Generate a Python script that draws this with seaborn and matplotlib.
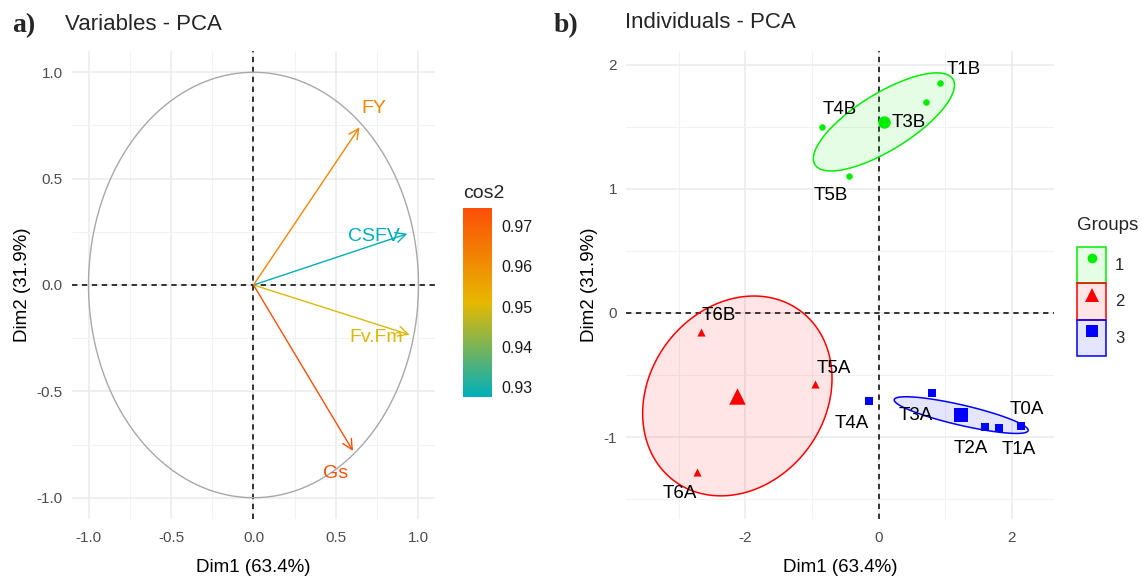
import numpy as np
import pandas as pd
import seaborn as sns
import matplotlib as mpl
from matplotlib import pyplot as plt
from matplotlib.patches import Patch
from matplotlib.lines import Line2D
from matplotlib.colors import LinearSegmentedColormap, Normalize, to_rgba

W, H = 1142, 584

# variables (left panel)
var_names = ['FY', 'CSFV', 'Fv.Fm', 'Gs']
var_dim1 = [0.642, 0.932, 0.946, 0.603]
var_dim2 = [0.741, 0.241, -0.234, -0.780]
var_cos2 = [0.962, 0.9275, 0.950, 0.9745]

# individuals (right panel)
ind_names = ['T1B', 'T3B', 'T4B', 'T5B', 'T6B', 'T5A', 'T6A', 'T0A', 'T1A', 'T2A', 'T3A', 'T4A']
ind_dim1 = [0.915, 0.705, -0.855, -0.45, -2.67, -0.96, -2.73, 2.13, 1.81, 1.60, 0.80, -0.15]
ind_dim2 = [1.85, 1.70, 1.50, 1.105, -0.153, -0.573, -1.28, -0.91, -0.93, -0.92, -0.645, -0.71]
ind_group = ['1', '1', '1', '1', '2', '2', '2', '3', '3', '3', '3', '3']

groups = ['1', '2', '3']
group_colors = {'1': '#00EE00', '2': '#FF0000', '3': '#0000FF'}
group_markers = {'1': 'o', '2': '^', '3': 's'}

# label nudges in pixels (dx, dy downwards)
var_nudge = {'FY': (14, -19), 'CSFV': (-33, 3), 'Fv.Fm': (-33, 3), 'Gs': (-17, 23)}
ind_nudge = {'T1B': (24, -14), 'T3B': (-17, 21), 'T4B': (18, -17), 'T5B': (-18, 20),
             'T6B': (18, -16), 'T5A': (19, -16), 'T6A': (-17, 22), 'T4A': (-17, 22),
             'T3A': (-16, 22), 'T2A': (-15, 21), 'T1A': (19, 21), 'T0A': (6, -16)}


def conf_ellipse(x, y, level=0.95, npoints=200):
    # same construction as ggpubr stat_conf_ellipse (barycenter)
    x, y = np.asarray(x), np.asarray(y)
    cov = np.cov(x, y) / len(x)
    sx, sy = np.sqrt(cov[0, 0]), np.sqrt(cov[1, 1])
    d = np.arccos(cov[0, 1] / (sx * sy))
    t = np.sqrt(-2 * np.log(1 - level))
    a = np.linspace(0, 2 * np.pi, npoints)
    return t * sx * np.cos(a + d / 2) + x.mean(), t * sy * np.cos(a - d / 2) + y.mean()


def style_axes(ax, xmaj, xmin, ymaj, ymin):
    ax.set_xticks(xmaj)
    ax.set_xticks(xmin, minor=True)
    ax.set_yticks(ymaj)
    ax.set_yticks(ymin, minor=True)
    ax.grid(which='major', color='#EBEBEB', lw=1.1)
    ax.grid(which='minor', color='#F2F2F2', lw=0.8)
    ax.set_axisbelow(True)
    for s in ax.spines.values():
        s.set_visible(False)
    ax.tick_params(which='major', length=3.5, width=1, color='#333333',
                   labelcolor='#4D4D4D', labelsize=11)
    ax.tick_params(axis='x', which='major', pad=5)
    ax.tick_params(axis='y', which='major', pad=3)
    ax.tick_params(which='minor', length=0)
    ax.axhline(0, color='black', ls=(0, (3.5, 3)), lw=1.1, zorder=1)
    ax.axvline(0, color='black', ls=(0, (3.5, 3)), lw=1.1, zorder=1)


def main():
    sns.set_theme(style='white')
    plt.rcParams['font.family'] = ['Liberation Sans', 'DejaVu Sans']
    plt.rcParams['axes.unicode_minus'] = False

    fig = plt.figure(figsize=(W / 100, H / 100), dpi=100)
    ax1 = fig.add_axes([72 / W, 1 - 519 / H, 363 / W, 468 / H])
    ax2 = fig.add_axes([626 / W, 1 - 519 / H, 428 / W, 468 / H])

    # ---- a) variables
    cmap = LinearSegmentedColormap.from_list('cos2', ['#00AFBB', '#E7B800', '#FC4E07'])
    norm = Normalize(min(var_cos2), max(var_cos2))

    style_axes(ax1, [-1, -0.5, 0, 0.5, 1], [-0.75, -0.25, 0.25, 0.75],
               [-1, -0.5, 0, 0.5, 1], [-0.75, -0.25, 0.25, 0.75])
    ax1.set_xlim(-1.1, 1.1)
    ax1.set_ylim(-1.1, 1.1)
    ang = np.linspace(0, 2 * np.pi, 300)
    ax1.plot(np.cos(ang), np.sin(ang), color='#A8A8A8', lw=1.0, zorder=2)

    for name, x, y, c2 in zip(var_names, var_dim1, var_dim2, var_cos2):
        col = cmap(norm(c2))
        ax1.annotate('', xy=(x, y), xytext=(0, 0),
                     arrowprops=dict(arrowstyle='->,head_length=0.6,head_width=0.3',
                                     color=col, lw=1.0, shrinkA=0, shrinkB=0), zorder=3)
        dx, dy = var_nudge[name]
        ax1.annotate(name, xy=(x, y), xytext=(dx, -dy), textcoords='offset pixels',
                     ha='center', va='center', color=col, fontsize=14, zorder=4)

    ax1.set_xlabel('Dim1 (63.4%)', fontsize=13.5, color='black')
    ax1.set_ylabel('Dim2 (31.9%)', fontsize=13.5, color='black')
    ax1.xaxis.set_label_coords(0.5, (519 - 568) / 468)
    ax1.yaxis.set_label_coords((22 - 72) / 363, 0.5)
    ax1.xaxis.label.set_va('center')
    ax1.yaxis.label.set_va('center')

    cax = fig.add_axes([463 / W, 1 - 397 / H, 29 / W, 189 / H])
    cb = fig.colorbar(mpl.cm.ScalarMappable(norm=norm, cmap=cmap), cax=cax,
                      ticks=[0.93, 0.94, 0.95, 0.96, 0.97])
    cb.outline.set_visible(False)
    cax.tick_params(direction='in', color='white', length=4, width=1, left=True, right=True,
                    labelsize=11.5, labelcolor='#1A1A1A', pad=7)
    cax.set_title('cos2', loc='left', fontsize=14, pad=7)

    # ---- b) individuals
    df = pd.DataFrame({'dim1': ind_dim1, 'dim2': ind_dim2, 'group': ind_group, 'name': ind_names})
    cent = df.groupby('group', as_index=False)[['dim1', 'dim2']].mean()

    style_axes(ax2, [-2, 0, 2], [-3, -1, 1], [-1, 0, 1, 2], [-1.5, -0.5, 0.5, 1.5])
    ax2.set_xlim(-3.79, 2.63)
    ax2.set_ylim(-1.66, 2.11)

    for g in groups:
        sub = df[df['group'] == g]
        ex, ey = conf_ellipse(sub['dim1'], sub['dim2'])
        ax2.fill(ex, ey, facecolor=to_rgba(group_colors[g], 0.1),
                 edgecolor=group_colors[g], lw=1.1, zorder=2)

    small = {'1': 22, '2': 34, '3': 26}
    big = {'1': 80, '2': 140, '3': 95}
    for g in groups:
        sns.scatterplot(data=df[df['group'] == g], x='dim1', y='dim2', ax=ax2,
                        color=group_colors[g], marker=group_markers[g], s=small[g],
                        linewidth=0, legend=False, zorder=3)
        sns.scatterplot(data=cent[cent['group'] == g], x='dim1', y='dim2', ax=ax2,
                        color=group_colors[g], marker=group_markers[g], s=big[g],
                        linewidth=0, legend=False, zorder=3)

    for _, row in df.iterrows():
        dx, dy = ind_nudge[row['name']]
        ax2.annotate(row['name'], xy=(row['dim1'], row['dim2']), xytext=(dx, -dy),
                     textcoords='offset pixels', ha='center', va='center',
                     color='black', fontsize=13.5, zorder=4)

    ax2.set_xlabel('Dim1 (63.4%)', fontsize=13.5, color='black')
    ax2.set_ylabel('Dim2 (31.9%)', fontsize=13.5, color='black')
    ax2.xaxis.set_label_coords(0.5, (519 - 568) / 468)
    ax2.yaxis.set_label_coords((590 - 626) / 428, 0.5)
    ax2.xaxis.label.set_va('center')
    ax2.yaxis.label.set_va('center')

    handles = []
    msize = {'1': 7, '2': 10, '3': 8}
    for g in groups:
        patch = Patch(facecolor=to_rgba(group_colors[g], 0.1), edgecolor=group_colors[g], lw=1.1)
        mark = Line2D([], [], marker=group_markers[g], color=group_colors[g],
                      linestyle='none', markersize=msize[g], markeredgewidth=0)
        handles.append((patch, mark))
    leg = fig.legend(handles, groups, title='Groups', loc='upper left',
                     bbox_to_anchor=(1077 / W, 1 - 217 / H), frameon=False, fontsize=12,
                     title_fontsize=13.5, handlelength=1.74, handleheight=3.0, labelspacing=0,
                     handletextpad=0.55, borderpad=0, borderaxespad=0, alignment='left')
    leg._legend_box.sep = 9

    # titles and panel tags
    fig.text(65 / W, 1 - 24 / H, 'Variables - PCA', fontsize=16, va='center', ha='left')
    fig.text(625 / W, 1 - 23 / H, 'Individuals - PCA', fontsize=16, va='center', ha='left')
    fig.text(24 / W, 1 - 26 / H, 'a)', fontsize=20, fontweight='bold',
             family='Liberation Serif', va='center', ha='center')
    fig.text(566 / W, 1 - 26 / H, 'b)', fontsize=20, fontweight='bold',
             family='Liberation Serif', va='center', ha='center')

    fig.savefig('out.png', dpi=100)


if __name__ == '__main__':
    main()
